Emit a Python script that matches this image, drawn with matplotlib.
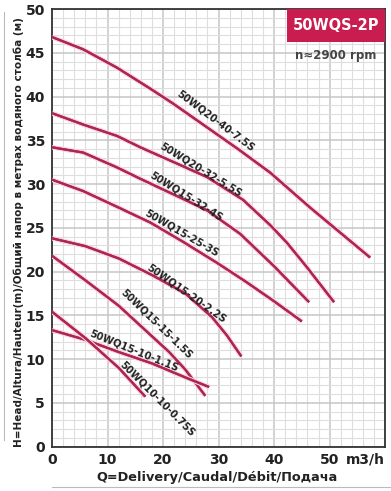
import matplotlib
matplotlib.use("Agg")
import matplotlib.pyplot as plt
import matplotlib.patheffects as pe
from matplotlib.lines import Line2D
from matplotlib.patches import Rectangle
import numpy as np

plt.rcParams["font.family"] = ["DejaVu Sans"]

# pump curves: flow Q (m3/h), head H (m)
names = [
    "50WQ20-40-7.5S",
    "50WQ20-32-5.5S",
    "50WQ15-32-4S",
    "50WQ15-25-3S",
    "50WQ15-20-2.2S",
    "50WQ15-15-1.5S",
    "50WQ15-10-1.1S",
    "50WQ10-10-0.75S",
]
q_vals = [
    [0, 5.6, 11.7, 17.7, 21.8, 29, 33.5, 39.3, 46.5, 57.3],
    [0, 5.6, 11.7, 15.9, 23, 27.9, 34.4, 39.3, 42.3, 45.9, 50.8],
    [0, 5.6, 11.7, 15.9, 23.6, 27.9, 33.9, 40, 46.3],
    [0, 5.6, 11.7, 17.7, 23.6, 29.7, 35, 40, 45],
    [0, 6, 12, 18, 24, 28.8, 31.5, 34.1],
    [0, 6, 12, 18, 21.1, 24, 27.6],
    [0, 6, 12, 18, 24, 28.3],
    [0, 6, 12, 16.8],
]
h_vals = [
    [46.8, 45.4, 43.3, 40.9, 39.2, 36.0, 34.0, 31.3, 27.3, 21.6],
    [38.1, 36.8, 35.5, 34.2, 32.2, 30.8, 28.2, 25.3, 23.3, 20.5, 16.5],
    [34.2, 33.6, 31.9, 30.6, 28.3, 27.0, 24.3, 20.6, 16.5],
    [30.5, 29.2, 27.4, 25.6, 23.4, 21.0, 18.8, 16.6, 14.3],
    [23.8, 22.9, 21.5, 19.6, 17.5, 14.8, 12.7, 10.3],
    [21.8, 19.0, 16.1, 12.6, 10.8, 8.8, 5.8],
    [13.3, 12.2, 10.8, 9.5, 7.9, 6.8],
    [15.4, 12.4, 9.0, 5.7],
]

# where each curve name sits (data coords) and its slant
label_pos = [(29.4, 37.2), (26.7, 31.6), (24.1, 28.6), (23.4, 24.4),
             (24.3, 17.5), (18.9, 14.0), (14.8, 10.9), (18.9, 5.5)]
label_rot = [-37, -31.5, -32, -30, -35, -44, -22, -45]

x_ticks = [0, 10, 20, 30, 40, 50]
y_ticks = [0, 5, 10, 15, 20, 25, 30, 35, 40, 45, 50]

line_col = "#ad2550"
glow = [pe.withStroke(linewidth=3.4, foreground="#f8d3de"), pe.Normal()]

fig = plt.figure(figsize=(3.91, 4.91), dpi=100)
ax = fig.add_axes([0.133, 0.0906, 0.852, 0.891])

ax.set_xlim(0, 60)
ax.set_ylim(0, 50)
ax.set_xticks(np.arange(0, 61, 10))
ax.set_xticks(np.arange(0, 61, 2), minor=True)
ax.set_yticks(y_ticks)
ax.set_yticks(np.arange(0, 51, 1), minor=True)
ax.set_xticklabels([str(t) for t in x_ticks] + [""])
ax.grid(which="minor", color="#dedede", linewidth=0.8)
ax.grid(which="major", color="#c6c6c6", linewidth=1.1)
ax.set_axisbelow(True)
ax.tick_params(which="both", length=0)
ax.tick_params(axis="y", pad=5, labelsize=10, labelcolor="#222222")
ax.tick_params(axis="x", pad=5, labelsize=10, labelcolor="#222222")
for lab in ax.get_xticklabels() + ax.get_yticklabels():
    lab.set_fontweight("bold")
for s in ax.spines.values():
    s.set_color("#333333")
    s.set_linewidth(1.3)

for q, h in zip(q_vals, h_vals):
    ax.plot(q, h, color=line_col, linewidth=1.6, solid_capstyle="butt",
            path_effects=glow, zorder=3)

for name, (lx, ly), rot in zip(names, label_pos, label_rot):
    ax.text(lx, ly, name, rotation=rot, rotation_mode="anchor",
            ha="center", va="center", fontsize=7.2, fontweight="bold",
            color="#222222", zorder=4)

ax.text(1.0, -0.014, "m3/h", transform=ax.transAxes, ha="right", va="top",
        fontsize=10, fontweight="bold", color="#222222")

# model badge in the top right corner
ax.add_patch(Rectangle((0.706, 0.925), 0.294, 0.075, transform=ax.transAxes,
                       facecolor="#c81d4e", edgecolor="none", zorder=5))
ax.text(0.853, 0.962, "50WQS-2P", transform=ax.transAxes, ha="center",
        va="center", fontsize=10.5, fontweight="bold", color="white", zorder=6)
ax.text(0.853, 0.893, "n≈2900 rpm", transform=ax.transAxes, ha="center",
        va="center", fontsize=8.5, fontweight="bold", color="#444444", zorder=6)

fig.text(19 / 391, 1 - 232 / 491,
         "H=Head/Altura/Hauteur(m)/Общий напор в метрах водяного столба (м)",
         rotation=90, ha="center", va="center", fontsize=7.5,
         fontweight="bold", color="#222222")
fig.text(217 / 391, 1 - 477 / 491, "Q=Delivery/Caudal/Débit/Подача",
         ha="center", va="center", fontsize=9.3, fontweight="bold",
         color="#222222")

fig.add_artist(Line2D([4 / 391, 4 / 391], [1 - 12 / 491, 1 - 440 / 491],
                      color="#bbbbbb", linewidth=0.8))
fig.add_artist(Line2D([52 / 391, 390 / 391], [1 - 487 / 491, 1 - 487 / 491],
                      color="#bbbbbb", linewidth=0.8))

fig.savefig("out.png", dpi=100, facecolor="white")
